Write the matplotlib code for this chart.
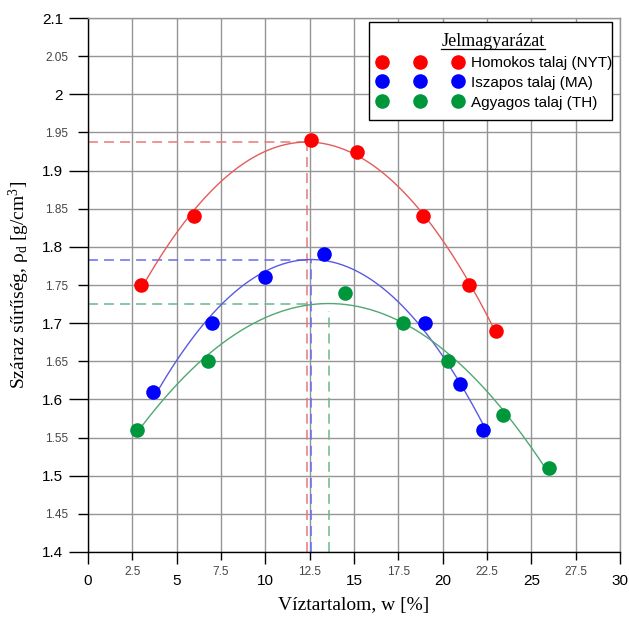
import numpy as np
import matplotlib
matplotlib.use('Agg')
import matplotlib.pyplot as plt
from matplotlib.ticker import MultipleLocator, FuncFormatter
from matplotlib.patches import Rectangle
from matplotlib.lines import Line2D

plt.rcParams['mathtext.fontset'] = 'custom'
plt.rcParams['mathtext.rm'] = 'Liberation Serif'
plt.rcParams['mathtext.it'] = 'Liberation Serif:italic'

# ---- data ----
series_names = ['Homokos talaj (NYT)', 'Iszapos talaj (MA)', 'Agyagos talaj (TH)']
w_nyt = [3.0, 6.0, 12.57, 15.17, 18.87, 21.5, 23.0]
rho_nyt = [1.75, 1.84, 1.94, 1.925, 1.84, 1.75, 1.69]
w_ma = [3.68, 6.99, 9.98, 13.29, 18.98, 20.98, 22.29]
rho_ma = [1.61, 1.70, 1.76, 1.79, 1.70, 1.62, 1.56]
w_th = [2.78, 6.78, 14.51, 17.78, 20.3, 23.38, 26.0]
rho_th = [1.56, 1.65, 1.74, 1.70, 1.65, 1.58, 1.51]
opt_w = [12.35, 12.57, 13.59]          # optimum water content (vertical dashed)
opt_rho = [1.938, 1.783, 1.7256]       # max dry density (horizontal dashed)
hline_end = [12.35, 12.55, 12.4]       # where horizontal dashed lines end
vline_top = [1.938, 1.783, 1.716]      # where vertical dashed lines end
fit_degree = [2, 2, 2]

marker_colors = ['#ff0000', '#0000ff', '#00963c']
line_colors = ['#e45b5b', '#5a5ae0', '#4fa872']
dash_colors = ['#e87878', '#6a6af0', '#6ab88a']

W = [w_nyt, w_ma, w_th]
R = [rho_nyt, rho_ma, rho_th]

fig = plt.figure(figsize=(6.29, 6.17), dpi=100)
ax = fig.add_axes([88/629, 1-552/617, 532/629, 534/617])

ax.set_xlim(0, 30)
ax.set_ylim(1.4, 2.1)

ax.xaxis.set_major_locator(MultipleLocator(5))
ax.xaxis.set_minor_locator(MultipleLocator(2.5))
ax.yaxis.set_major_locator(MultipleLocator(0.1))
ax.yaxis.set_minor_locator(MultipleLocator(0.05))

fmt = FuncFormatter(lambda v, p: ('%.2f' % v).rstrip('0').rstrip('.'))
ax.xaxis.set_major_formatter(fmt)
ax.xaxis.set_minor_formatter(fmt)
ax.yaxis.set_major_formatter(fmt)
ax.yaxis.set_minor_formatter(fmt)

ax.grid(True, which='both', color='#959595', linewidth=1.0, zorder=0)
ax.set_axisbelow(True)
for s in ['top', 'right']:
    ax.spines[s].set_color('#959595')
    ax.spines[s].set_linewidth(1.0)
for s in ['left', 'bottom']:
    ax.spines[s].set_color('black')
    ax.spines[s].set_linewidth(1.0)

ax.tick_params(axis='x', which='major', direction='out', length=8.6, width=1.0,
               labelsize=11, pad=6.9, colors='black')
ax.tick_params(axis='x', which='minor', direction='out', length=5.8, width=1.0,
               labelsize=8.5, pad=4, colors='black', labelcolor='#444444')
ax.tick_params(axis='y', which='major', direction='out', length=13.7, width=1.0,
               labelsize=11, pad=4.3, colors='black')
ax.tick_params(axis='y', which='minor', direction='out', length=7.2, width=1.0,
               labelsize=8.5, pad=7.2, colors='black', labelcolor='#444444')
for lab in ax.get_xticklabels(which='both') + ax.get_yticklabels(which='both'):
    lab.set_family('Liberation Sans')

# fitted curves, dashed guides, points
for i in range(3):
    w = np.array(W[i]); r = np.array(R[i])
    c = np.polyfit(w, r, fit_degree[i])
    xs = np.linspace(w.min(), w.max(), 200)
    ax.plot(xs, np.polyval(c, xs), color=line_colors[i], lw=1.0, zorder=3)
for i in range(3):
    ax.plot([0, hline_end[i]], [opt_rho[i], opt_rho[i]], color=dash_colors[i],
            lw=1.1, dashes=(6.5, 4), zorder=2)
    ax.plot([opt_w[i], opt_w[i]], [1.4, vline_top[i]], color=dash_colors[i],
            lw=1.1, dashes=(6.5, 4), zorder=2)
for i in range(3):
    ax.plot(W[i], R[i], 'o', color=marker_colors[i], markersize=10.5,
            markeredgewidth=0, zorder=5, label=series_names[i])

ax.set_xlabel('Víztartalom, w [%]', family='Liberation Serif', fontsize=14, labelpad=7)
ax.set_ylabel(r'Száraz sűrűség, ρ$_\mathrm{d}$ [g/cm$^3$]', family='Liberation Serif',
              fontsize=14)
ax.yaxis.set_label_coords(-0.105, 0.5)

# legend box
x0 = (369-88)/532; x1 = (612-88)/532
yt = (552-22)/534; yb = (552-120)/534
ax.add_patch(Rectangle((x0, yb), x1-x0, yt-yb, transform=ax.transAxes,
                       facecolor='white', edgecolor='black', lw=1.0, zorder=8,
                       clip_on=False))
lfs = 11
leg = ax.legend(loc='upper left', bbox_to_anchor=((377.7-88)/532, (552-56)/534),
                frameon=False, numpoints=3, handlelength=5.57, handletextpad=0.54,
                labelspacing=0.38, borderaxespad=0, borderpad=0,
                prop={'family': 'Liberation Sans', 'size': lfs})
leg.set_zorder(9)
tx = ((443+543)/2 - 88)/532
ty = (552-41)/534
title = ax.text(tx, ty, 'Jelmagyarázat', transform=ax.transAxes, ha='center', va='center',
                family='Liberation Serif', fontsize=13, zorder=10)
fig.canvas.draw()
bb = title.get_window_extent()
inv = fig.transFigure.inverted()
(a0, b0) = inv.transform((bb.x0, bb.y0 + 1))
(a1, b1) = inv.transform((bb.x1, bb.y0 + 1))
fig.add_artist(Line2D([a0, a1], [b0, b1], color='black', lw=0.9, zorder=11))

fig.savefig('out.png', dpi=100)
